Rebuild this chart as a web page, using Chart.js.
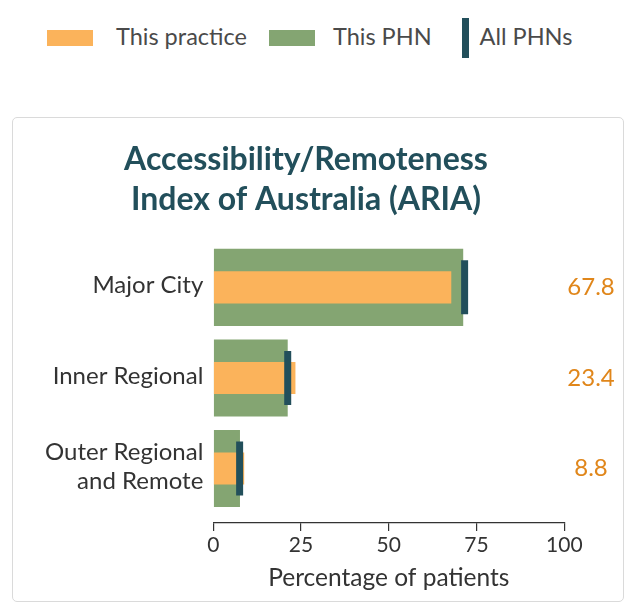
<!DOCTYPE html>
<html>
<head>
<meta charset="utf-8">
<script src="https://cdn.jsdelivr.net/npm/chart.js@4.4.1/dist/chart.umd.min.js"></script>
<style>
  html, body { margin:0; padding:0; background:#fff; }
  body { position:relative; width:629px; height:607px; overflow:hidden; font-family: Lato, 'Open Sans', sans-serif; }
  #card { position:absolute; left:12px; top:117px; width:612px; height:485px; box-sizing:border-box; border:1px solid #dadada; border-radius:5px; }
  #legend { position:absolute; left:0; top:0; height:76px; display:flex; align-items:center; font-size:23.5px; color:#4a4a4a; white-space:nowrap; }
  #legend .sw { flex:none; }
  #legend .tx { position:relative; top:-2px; }
  #chart { position:absolute; left:-17px; top:0; }
</style>
</head>
<body>
<div id="card"></div>
<div id="legend"></div>
<canvas id="chart" width="646" height="607"></canvas>
<script>
// ---- data ----
const categories = ['Major City', 'Inner Regional', ['Outer Regional', 'and Remote']];
const seriesNames = ['This practice', 'This PHN', 'All PHNs'];
const practiceValues = [67.8, 23.4, 8.8];
const phnValues = [71.2, 21.2, 7.6];
const allPhnValues = [71.6, 21.2, 7.5];
const xTicks = [0, 25, 50, 75, 100];
const chartTitle = ['Accessibility/Remoteness', 'Index of Australia (ARIA)'];
const xTitle = 'Percentage of patients';

// ---- styles ----
const ORANGE = '#fbb35b';
const GREEN = '#84a572';
const TEAL = '#224f5b';
const VALUE_COLOR = '#e0861a';
const TEXT = '#333333';
const FONT = 'Lato';
const CANVAS_SHIFT = 17;   // canvas is placed 17px left of the page edge

// ---- HTML legend ----
const legendLayout = [
  { color: ORANGE, ml: 47, w: 46, h: 16, gap: 23 },
  { color: GREEN,  ml: 22, w: 46, h: 16, gap: 18 },
  { color: TEAL,   ml: 30, w: 7,  h: 40, gap: 11 }
];
const legendEl = document.getElementById('legend');
seriesNames.forEach((name, i) => {
  const L = legendLayout[i];
  const sw = document.createElement('span');
  sw.className = 'sw';
  sw.style.cssText = `display:inline-block;width:${L.w}px;height:${L.h}px;background:${L.color};margin-left:${L.ml}px;`;
  const tx = document.createElement('span');
  tx.className = 'tx';
  tx.textContent = name;
  tx.style.marginLeft = L.gap + 'px';
  legendEl.appendChild(sw);
  legendEl.appendChild(tx);
});

// ---- chart ----
const indexTicks = (scale) => { scale.ticks = categories.map((_, i) => ({ value: i })); };
const yRange = { min: -0.6, max: 2.6 };

Chart.defaults.font.family = FONT;

new Chart(document.getElementById('chart'), {
  type: 'bar',
  data: {
    labels: categories,
    datasets: [
      {
        type: 'scatter',
        label: seriesNames[2],
        data: allPhnValues.map((v, i) => ({ x: v, y: i })),
        pointStyle: 'line',
        rotation: 90,
        radius: 27,
        hoverRadius: 27,
        borderWidth: 7,
        hoverBorderWidth: 7,
        borderColor: TEAL,
        backgroundColor: TEAL,
        order: 0,
        xAxisID: 'x',
        yAxisID: 'y'
      },
      {
        label: seriesNames[0],
        data: practiceValues.map((v, i) => ({ x: v, y: i })),
        backgroundColor: ORANGE,
        barPercentage: 0.354,
        categoryPercentage: 1,
        grouped: false,
        order: 1,
        xAxisID: 'x',
        yAxisID: 'y'
      },
      {
        label: seriesNames[1],
        data: phnValues.map((v, i) => ({ x: v, y: i })),
        backgroundColor: GREEN,
        barPercentage: 0.851,
        categoryPercentage: 1,
        grouped: false,
        order: 2,
        xAxisID: 'x',
        yAxisID: 'y'
      }
    ]
  },
  options: {
    indexAxis: 'y',
    responsive: false,
    animation: false,
    events: [],
    layout: { padding: { left: 0, right: 0, top: 0, bottom: 10 } },
    plugins: {
      legend: { display: false },
      tooltip: { enabled: false },
      title: {
        display: true,
        text: chartTitle,
        color: TEAL,
        font: { family: FONT, size: 32, weight: 'bold', lineHeight: 1.25 },
        padding: { top: 140, bottom: 13 }
      }
    },
    scales: {
      x: {
        type: 'linear',
        position: 'bottom',
        min: xTicks[0],
        max: xTicks[xTicks.length - 1],
        afterBuildTicks: (s) => { s.ticks = xTicks.map(v => ({ value: v })); },
        grid: { display: true, drawOnChartArea: false, drawTicks: true, tickLength: 8, color: TEXT, lineWidth: 1.2, offset: false },
        border: { display: true, color: TEXT, width: 1.2 },
        ticks: { font: { family: FONT, size: 21 }, color: TEXT, padding: 2, maxRotation: 0, autoSkip: false },
        title: { display: true, text: xTitle, color: TEXT, font: { family: FONT, size: 24.5 }, padding: { top: 3.5, bottom: 4 } }
      },
      y: {
        type: 'linear',
        position: 'left',
        reverse: true,
        offset: false,
        min: yRange.min,
        max: yRange.max,
        afterBuildTicks: indexTicks,
        afterFit: (s) => { s.width = 213.3 + CANVAS_SHIFT; },
        grid: { display: false, drawTicks: false, offset: false },
        border: { display: false },
        ticks: {
          autoSkip: false,
          callback: (v) => categories[v],
          font: { family: FONT, size: 24, lineHeight: 1.2 },
          color: TEXT,
          padding: 10,
          labelOffset: -2
        }
      },
      y2: {
        type: 'linear',
        position: 'right',
        reverse: true,
        offset: false,
        min: yRange.min,
        max: yRange.max,
        afterBuildTicks: indexTicks,
        afterFit: (s) => { s.width = 629 - 564.3; },
        grid: { display: false, drawTicks: false, offset: false },
        border: { display: false },
        ticks: {
          autoSkip: false,
          callback: (v) => practiceValues[v].toFixed(1),
          crossAlign: 'center',
          font: { family: FONT, size: 24 },
          color: VALUE_COLOR,
          padding: 3
        }
      }
    }
  }
});
</script>
</body>
</html>
